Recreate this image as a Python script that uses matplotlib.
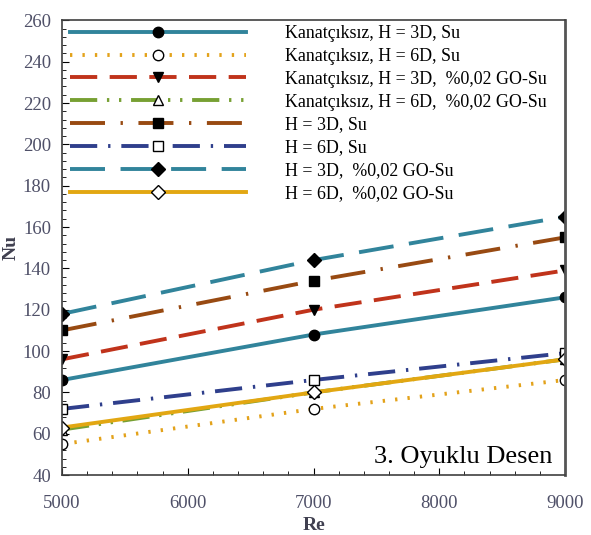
import matplotlib.pyplot as plt
from matplotlib.ticker import MultipleLocator

re = [5000, 7000, 9000]

labels = [
    "Kanatçıksız, H = 3D, Su",
    "Kanatçıksız, H = 6D, Su",
    "Kanatçıksız, H = 3D,  %0,02 GO-Su",
    "Kanatçıksız, H = 6D,  %0,02 GO-Su",
    "H = 3D, Su",
    "H = 6D, Su",
    "H = 3D,  %0,02 GO-Su",
    "H = 6D,  %0,02 GO-Su",
]

nu_k3_su = [86, 108, 126]
nu_k6_su = [55, 72, 86]
nu_k3_go = [96, 120, 139]
nu_k6_go = [62, 80, 96]
nu_3_su = [110, 134, 155]
nu_6_su = [72, 86, 99]
nu_3_go = [118, 144, 165]
nu_6_go = [63, 80, 96]

series = [nu_k3_su, nu_k6_su, nu_k3_go, nu_k6_go, nu_3_su, nu_6_su, nu_3_go, nu_6_go]

# style per series: color, dash, marker, marker face
styles = [
    ("#31849b", "-", "o", "black"),
    ("#e3a21a", (0, (0.6, 2.6)), "o", "white"),
    ("#c0331b", (0, (7, 3.2)), "v", "black"),
    ("#77a033", (0, (7, 2.5, 0.6, 2.5, 0.6, 2.5)), "^", "white"),
    ("#984a12", (0, (9, 4, 0.6, 4)), "s", "black"),
    ("#2f3f8c", (0, (7, 2.8, 0.6, 2.8)), "s", "white"),
    ("#31849b", (0, (9, 4)), "D", "black"),
    ("#e2a712", "-", "D", "white"),
]

plt.rcParams['font.family'] = ['Liberation Serif', 'DejaVu Serif']

fig = plt.figure(figsize=(5.91, 5.35), dpi=100)
ax = fig.add_axes([0.105, 0.112, 0.851, 0.850])

for y, lab, (c, ls, m, fc) in zip(series, labels, styles):
    ax.plot(re, y, color=c, linestyle=ls, linewidth=2.8, marker=m,
            markerfacecolor=fc, markeredgecolor="black", markeredgewidth=1,
            markersize=7.5, label=lab)

ax.set_xlim(5000, 9000)
ax.set_ylim(40, 260)
ax.xaxis.set_major_locator(MultipleLocator(1000))
ax.xaxis.set_minor_locator(MultipleLocator(200))
ax.yaxis.set_major_locator(MultipleLocator(20))
ax.yaxis.set_minor_locator(MultipleLocator(4))
ax.tick_params(which="both", direction="in", labelsize=13.5, labelcolor="#4f5068")
ax.tick_params(axis="x", pad=14)
ax.tick_params(axis="y", pad=8)
ax.tick_params(which="major", length=5)
ax.tick_params(which="minor", length=3)
for s in ax.spines.values():
    s.set_color("#404040")
    s.set_linewidth(1.2)
ax.spines["right"].set_linewidth(2)
ax.spines["right"].set_color("#555555")

ax.set_xlabel("Re", fontsize=14, fontweight="bold", color="#404050", labelpad=4)
ax.set_ylabel("Nu", fontsize=14, fontweight="bold", color="#404050", labelpad=2)

ax.legend(loc="upper left", bbox_to_anchor=(0.016, 0.99), numpoints=1,
          handlelength=9.8, handletextpad=2.2, labelspacing=0.33,
          fontsize=12.9, frameon=False, borderpad=0, borderaxespad=0)

ax.text(0.975, 0.026, "3. Oyuklu Desen", transform=ax.transAxes, ha="right",
        va="baseline", fontsize=19)

fig.savefig("out.png", dpi=100)
